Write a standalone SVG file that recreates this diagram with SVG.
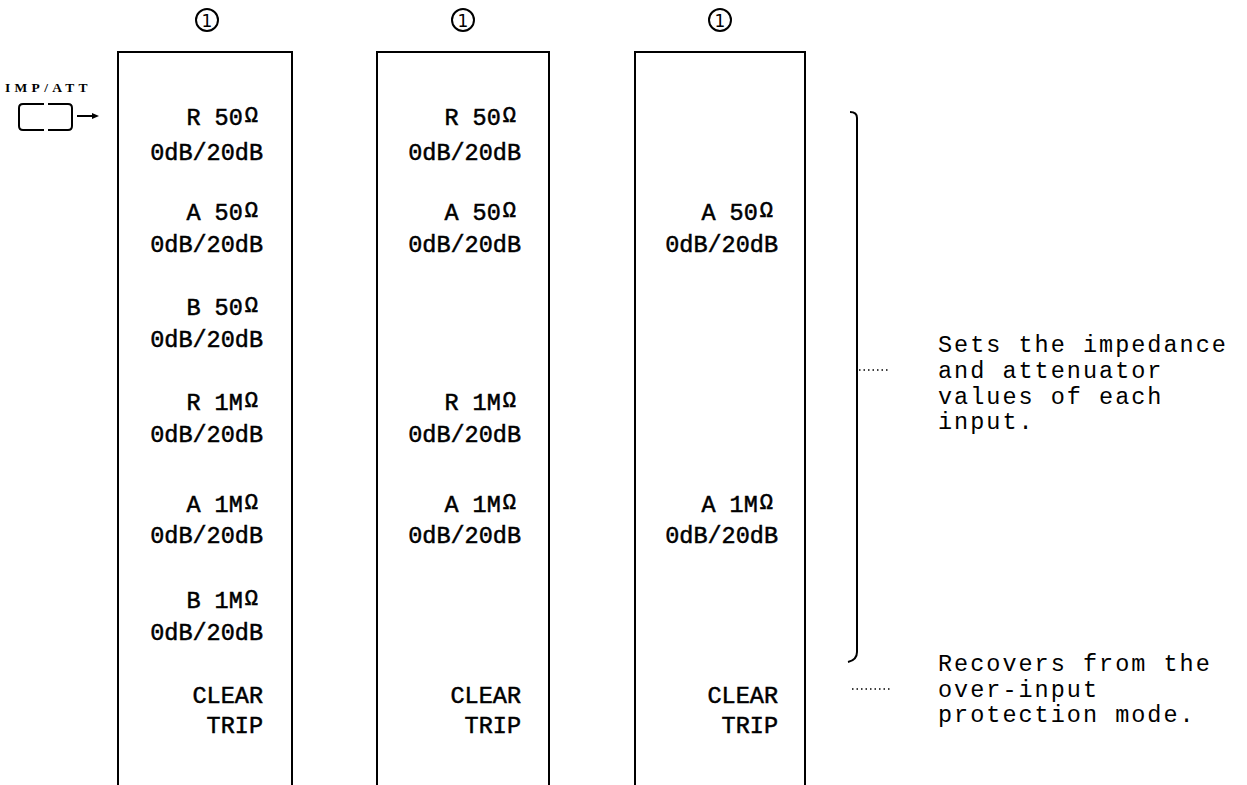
<svg xmlns="http://www.w3.org/2000/svg" width="1247" height="785" viewBox="0 0 1247 785">
<style>
.box{fill:none;stroke:#000;stroke-width:2}
.lbl{font-family:"Liberation Mono",monospace;font-size:23.5px;fill:#000;stroke:#000;stroke-width:0.5;text-anchor:end}
.om{font-size:22px}
.num{font-family:"DejaVu Sans",sans-serif;font-size:17px;fill:#000;text-anchor:middle}
.note{font-family:"Liberation Mono",monospace;font-size:23.5px;letter-spacing:2px;fill:#000}
.dots{stroke:#000;stroke-width:1.5;stroke-dasharray:1.5 3;fill:none}
.ln{stroke:#000;stroke-width:2;fill:none}
</style>
<rect width="1247" height="785" fill="#fff"/>

<g id="imp-att-key">
  <text x="5" y="92" font-family="Liberation Serif,serif" font-weight="bold" font-size="13.5" letter-spacing="4.3">IMP/ATT</text>
  <path class="ln" d="M44 104 H23 Q19 104 19 108 V126 Q19 130 23 130 H44"/>
  <path class="ln" d="M48 104 H68 Q72 104 72 108 V126 Q72 130 68 130 H48"/>
  <line class="ln" x1="77" y1="116" x2="94" y2="116"/>
  <polygon points="99,116 92,113 92,119" fill="#000"/>
</g>

<g id="col1">
  <circle cx="207" cy="20" r="11" fill="none" stroke="#000" stroke-width="2"/>
  <text class="num" x="207" y="26.5">1</text>
  <path class="box" d="M118 785 V52 H292 V785"/>
  <text class="lbl" x="258" y="125">R 50<tspan class="om" dx="2" dy="-3">Ω</tspan></text>
  <text class="lbl" x="263" y="160">0dB/20dB</text>
  <text class="lbl" x="258" y="220">A 50<tspan class="om" dx="2" dy="-3">Ω</tspan></text>
  <text class="lbl" x="263" y="252">0dB/20dB</text>
  <text class="lbl" x="258" y="315">B 50<tspan class="om" dx="2" dy="-3">Ω</tspan></text>
  <text class="lbl" x="263" y="347">0dB/20dB</text>
  <text class="lbl" x="258" y="410">R 1M<tspan class="om" dx="2" dy="-3">Ω</tspan></text>
  <text class="lbl" x="263" y="442">0dB/20dB</text>
  <text class="lbl" x="258" y="512">A 1M<tspan class="om" dx="2" dy="-3">Ω</tspan></text>
  <text class="lbl" x="263" y="543">0dB/20dB</text>
  <text class="lbl" x="258" y="608">B 1M<tspan class="om" dx="2" dy="-3">Ω</tspan></text>
  <text class="lbl" x="263" y="640">0dB/20dB</text>
  <text class="lbl" x="263" y="703">CLEAR</text>
  <text class="lbl" x="263" y="733">TRIP</text>
</g>

<g id="col2">
  <circle cx="463" cy="20" r="11" fill="none" stroke="#000" stroke-width="2"/>
  <text class="num" x="463" y="26.5">1</text>
  <path class="box" d="M377 785 V52 H549 V785"/>
  <text class="lbl" x="516" y="125">R 50<tspan class="om" dx="2" dy="-3">Ω</tspan></text>
  <text class="lbl" x="521" y="160">0dB/20dB</text>
  <text class="lbl" x="516" y="220">A 50<tspan class="om" dx="2" dy="-3">Ω</tspan></text>
  <text class="lbl" x="521" y="252">0dB/20dB</text>
  <text class="lbl" x="516" y="410">R 1M<tspan class="om" dx="2" dy="-3">Ω</tspan></text>
  <text class="lbl" x="521" y="442">0dB/20dB</text>
  <text class="lbl" x="516" y="512">A 1M<tspan class="om" dx="2" dy="-3">Ω</tspan></text>
  <text class="lbl" x="521" y="543">0dB/20dB</text>
  <text class="lbl" x="521" y="703">CLEAR</text>
  <text class="lbl" x="521" y="733">TRIP</text>
</g>

<g id="col3">
  <circle cx="720" cy="20" r="11" fill="none" stroke="#000" stroke-width="2"/>
  <text class="num" x="720" y="26.5">1</text>
  <path class="box" d="M635 785 V52 H805 V785"/>
  <text class="lbl" x="773" y="220">A 50<tspan class="om" dx="2" dy="-3">Ω</tspan></text>
  <text class="lbl" x="778" y="252">0dB/20dB</text>
  <text class="lbl" x="773" y="512">A 1M<tspan class="om" dx="2" dy="-3">Ω</tspan></text>
  <text class="lbl" x="778" y="543">0dB/20dB</text>
  <text class="lbl" x="778" y="703">CLEAR</text>
  <text class="lbl" x="778" y="733">TRIP</text>
</g>

<g id="connectors">
  <path class="ln" d="M850 112 Q857 112 857 118 V652 Q857 660 848 662"/>
  <line class="dots" x1="859" y1="370" x2="890" y2="370"/>
  <line class="dots" x1="852" y1="689" x2="892" y2="689"/>
</g>

<g id="note-imp">
  <text class="note" x="938" y="352">Sets the impedance</text>
  <text class="note" x="938" y="378">and attenuator</text>
  <text class="note" x="938" y="404">values of each</text>
  <text class="note" x="938" y="429">input.</text>
</g>

<g id="note-trip">
  <text class="note" x="938" y="671">Recovers from the</text>
  <text class="note" x="938" y="697">over-input</text>
  <text class="note" x="938" y="722">protection mode.</text>
</g>
</svg>
